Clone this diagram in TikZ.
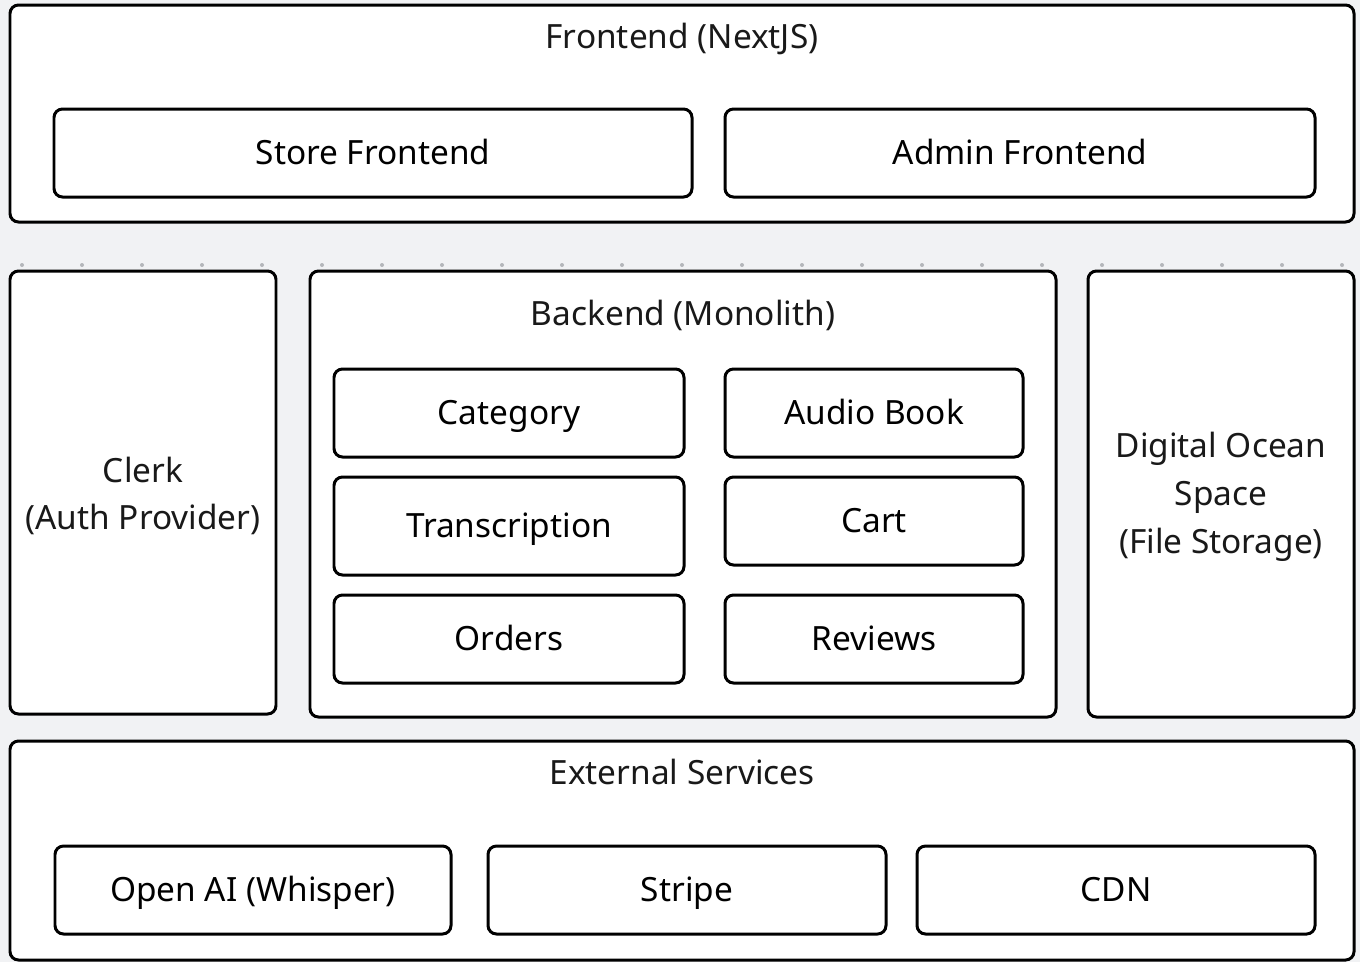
\documentclass[tikz,border=0pt]{standalone}
\usepackage{fontspec}
\setmainfont{Noto Sans}
\usepackage{xcolor}
\definecolor{canvas}{HTML}{F1F2F4}
\definecolor{griddot}{HTML}{B4B6BA}

\tikzset{
  box/.style={draw=black, fill=white, line width=1.7pt, rounded corners=0.17cm, text height=13.6pt, text depth=0pt},
  area/.style={draw=black, fill=white, line width=1.7pt, rounded corners=0.17cm},
  title/.style={anchor=center, text=black!90, text height=13.6pt, text depth=0pt},
  multi/.style={anchor=center, text=black!90}
}

\begin{document}
\begin{tikzpicture}[font=\fontsize{19}{27.2}\selectfont, align=center]
	\fill[canvas] (0,0) rectangle (27.2,-19.24);
	\useasboundingbox (0,0) rectangle (27.2,-19.24);
	\foreach \x in {0.44,1.64,...,26.9}
		\fill[griddot] (\x,-5.30) circle (0.04);
	% frontend layer
	\node[area, minimum width=26.88cm, minimum height=4.34cm] (front) at (13.64,-2.27) {};
	\node[title] (fronttitle) at (13.64,-0.74) {Frontend (NextJS)};
	\node[box, minimum width=12.76cm, minimum height=1.76cm] (store) at (7.46,-3.06) {Store Frontend};
	\node[box, minimum width=11.80cm, minimum height=1.76cm] (admin) at (20.40,-3.06) {Admin Frontend};
	% middle layer
	\node[area, minimum width=5.32cm, minimum height=8.86cm] (clerk) at (2.86,-9.85) {};
	\node[multi] (clerktext) at (2.86,-9.92) {Clerk\\(Auth Provider)};
	\node[area, minimum width=14.92cm, minimum height=8.92cm] (backend) at (13.66,-9.88) {};
	\node[title] (backtitle) at (13.66,-6.28) {Backend (Monolith)};
	\node[box, minimum width=7.00cm, minimum height=1.76cm] (category) at (10.18,-8.26) {Category};
	\node[box, minimum width=5.96cm, minimum height=1.76cm] (audiobook) at (17.48,-8.26) {Audio Book};
	\node[box, minimum width=7.00cm, minimum height=1.96cm] (transcription) at (10.18,-10.52) {Transcription};
	\node[box, minimum width=5.96cm, minimum height=1.76cm] (cart) at (17.48,-10.42) {Cart};
	\node[box, minimum width=7.00cm, minimum height=1.76cm] (orders) at (10.18,-12.78) {Orders};
	\node[box, minimum width=5.96cm, minimum height=1.76cm] (reviews) at (17.48,-12.78) {Reviews};
	\node[area, minimum width=5.32cm, minimum height=8.92cm] (space) at (24.42,-9.88) {};
	\node[multi] (spacetext) at (24.42,-9.94) {Digital Ocean\\Space\\(File Storage)};
	% external layer
	\node[area, minimum width=26.88cm, minimum height=4.38cm] (external) at (13.64,-17.01) {};
	\node[title] (exttitle) at (13.64,-15.46) {External Services};
	\node[box, minimum width=7.92cm, minimum height=1.76cm] (openai) at (5.06,-17.80) {Open AI (Whisper)};
	\node[box, minimum width=7.96cm, minimum height=1.76cm] (stripe) at (13.74,-17.80) {Stripe};
	\node[box, minimum width=7.96cm, minimum height=1.76cm] (cdn) at (22.32,-17.80) {CDN};
\end{tikzpicture}
\end{document}
